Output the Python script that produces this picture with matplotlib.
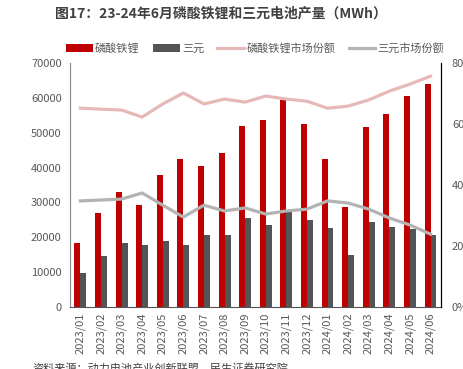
import numpy as np
import matplotlib.pyplot as plt
from matplotlib.ticker import FuncFormatter

plt.rcParams['font.family'] = ['Noto Sans CJK SC', 'DejaVu Sans']

months = ['2023/01', '2023/02', '2023/03', '2023/04', '2023/05', '2023/06',
          '2023/07', '2023/08', '2023/09', '2023/10', '2023/11', '2023/12',
          '2024/01', '2024/02', '2024/03', '2024/04', '2024/05', '2024/06']

# production, MWh
lfp = [18300, 27000, 33000, 29300, 37900, 42500, 40500, 44200, 52000,
       53700, 59400, 52500, 42500, 28700, 51600, 55300, 60500, 64000]
ternary = [9750, 14600, 18300, 17800, 18900, 17800, 20600, 20600, 25500,
           23600, 27300, 25000, 22700, 14900, 24400, 22900, 22400, 20600]

# market share, %
lfp_share = [65.2, 64.9, 64.6, 62.3, 66.6, 70.2, 66.6, 68.2, 67.2,
             69.2, 68.2, 67.5, 65.2, 65.9, 67.9, 70.8, 73.1, 75.7]
ternary_share = [34.8, 35.1, 35.4, 37.4, 33.4, 29.5, 33.4, 31.5, 32.5,
                 30.5, 31.5, 32.1, 34.8, 34.1, 32.1, 29.2, 26.9, 23.9]

red = '#C00000'
dark = '#545454'
pink = '#E6B9B8'
grey = '#B3B3B3'
txt = '#595959'

fig = plt.figure(figsize=(4.64, 3.69), dpi=100)
ax = fig.add_axes([0.151, 0.168, 0.799, 0.661])
ax2 = ax.twinx()

x = np.arange(len(months))
w = 0.29
b1 = ax.bar(x - w / 2, lfp, w, color=red, label='磷酸铁锂')
b2 = ax.bar(x + w / 2, ternary, w, color=dark, label='三元')
l1, = ax2.plot(x, lfp_share, color=pink, lw=2.3, label='磷酸铁锂市场份额')
l2, = ax2.plot(x, ternary_share, color=grey, lw=2.3, label='三元市场份额')

ax.set_xlim(-0.5, len(months) - 0.5)
ax.set_ylim(0, 70000)
ax.set_yticks(range(0, 70001, 10000))
ax2.set_ylim(0, 80)
ax2.set_yticks([0, 20, 40, 60, 80])
ax2.yaxis.set_major_formatter(FuncFormatter(lambda v, p: f'{v:.0f}%'))

ax.set_xticks(x)
ax.set_xticklabels(months, rotation=90, fontsize=8, color=txt)
ax.tick_params(axis='y', labelsize=8, labelcolor=txt, length=0, pad=6)
ax.tick_params(axis='x', length=0, pad=4)
ax2.tick_params(axis='y', labelsize=8, labelcolor=txt, length=0, pad=8)

for a in (ax, ax2):
    a.spines['top'].set_visible(False)
ax.spines['left'].set_color('#888888')
ax.spines['bottom'].set_color('#555555')
ax2.spines['left'].set_visible(False)
ax2.spines['bottom'].set_visible(False)
ax2.spines['right'].set_color('black')

fig.text(0.476, 0.962, '图17：23-24年6月磷酸铁锂和三元电池产量（MWh）',
         ha='center', va='center', fontsize=10, fontweight='bold', color='#404040')

fig.legend([b1, b2, l1, l2], ['磷酸铁锂', '三元', '磷酸铁锂市场份额', '三元市场份额'],
           loc='center', bbox_to_anchor=(0.55, 0.868), ncol=4, frameon=False,
           fontsize=8, labelcolor=txt, handlelength=2.4, handletextpad=0.2,
           columnspacing=1.2)

fig.text(0.07, 0.018, '资料来源：动力电池产业创新联盟，民生证券研究院',
         ha='left', va='top', fontsize=8, color='#404040')

fig.savefig('out.png', dpi=100)
